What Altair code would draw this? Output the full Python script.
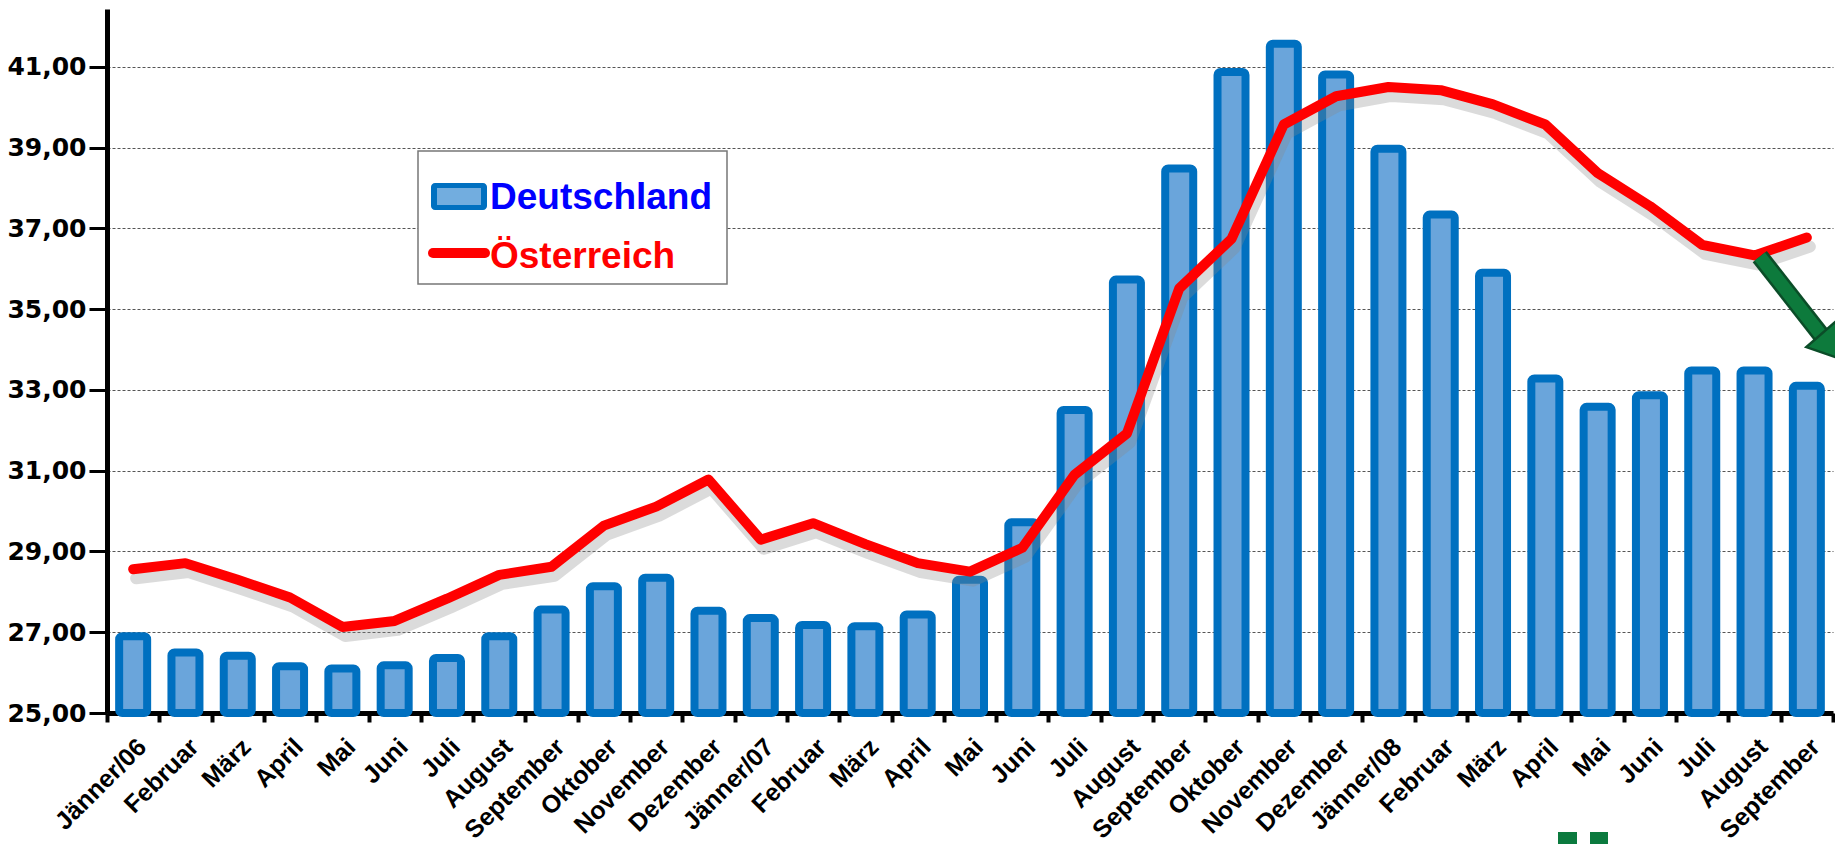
import altair as alt
import pandas as pd

months = ["Jänner/06", "Februar", "März", "April", "Mai", "Juni", "Juli", "August",
          "September", "Oktober", "November", "Dezember",
          "Jänner/07", "Februar", "März", "April", "Mai", "Juni", "Juli", "August",
          "September", "Oktober", "November", "Dezember",
          "Jänner/08", "Februar", "März", "April", "Mai", "Juni", "Juli", "August",
          "September"]

deutschland = [26.90, 26.50, 26.42, 26.16, 26.10, 26.18, 26.36, 26.90, 27.56, 28.14,
               28.35, 27.53, 27.35, 27.18, 27.15, 27.44, 28.30, 29.72, 32.50, 35.73,
               38.48, 40.87, 41.57, 40.81, 38.97, 37.34, 35.90, 33.28, 32.58, 32.87,
               33.48, 33.48, 33.10]

oesterreich = [28.56, 28.71, 28.30, 27.86, 27.13, 27.28, 27.83, 28.42, 28.62, 29.64,
               30.11, 30.78, 29.29, 29.70, 29.18, 28.71, 28.50, 29.09, 30.90, 31.92,
               35.51, 36.74, 39.57, 40.27, 40.50, 40.42, 40.07, 39.57, 38.37, 37.55,
               36.59, 36.33, 36.77]

y_ticks = [25, 27, 29, 31, 33, 35, 37, 39, 41]

# annotation arrow (in month-index units / y units)
arrow_x = [31.60, 32.79]
arrow_y = [36.30, 34.33]
arrow_head_x = [32.98]
arrow_head_y = [34.06]

W, H = 1726, 704
Y_DOMAIN = [25, 42.43]

df = pd.DataFrame({"i": list(range(len(months))), "D": deutschland, "O": oesterreich})

label_array = "[" + ",".join("'" + m + "'" for m in months) + "]"

x_enc = alt.X("i:O", title=None,
              scale=alt.Scale(paddingInner=0, paddingOuter=0),
              axis=alt.Axis(labelExpr=label_array + "[datum.value]",
                            labelAngle=-45, labelAlign="right", labelBaseline="top",
                            labelFont="Liberation Sans", labelFontWeight="bold",
                            labelFontSize=25, labelColor="black", labelPadding=12,
                            tickBand="extent", tickColor="black", tickWidth=4,
                            tickSize=9, domainColor="black", domainWidth=5,
                            grid=False))

y_scale = alt.Scale(domain=Y_DOMAIN, nice=False, zero=False)
y_axis = alt.Axis(values=y_ticks,
                  labelExpr="replace(format(datum.value, '.2f'), '.', ',')",
                  labelFont="DejaVu Sans", labelFontWeight="bold", labelFontSize=25,
                  labelColor="black", labelPadding=3,
                  tickColor="black", tickWidth=3, tickSize=18,
                  domainColor="black", domainWidth=5,
                  grid=True, gridColor="#555555", gridWidth=1, gridDash=[3, 2])

base = alt.Chart(df)

bars = base.mark_bar(size=28, fill="#6aa5db", stroke="#0070c0", strokeWidth=8,
                     cornerRadius=3).encode(
    x=x_enc,
    y=alt.Y("D:Q", title=None, scale=y_scale, axis=y_axis),
    y2=alt.datum(25),
)

shadow = base.mark_line(color="#888888", opacity=0.3, strokeWidth=12, yOffset=9,
                        xOffset=3, strokeJoin="round", strokeCap="round").encode(
    x=alt.X("i:O"), y=alt.Y("O:Q", title=None, scale=y_scale))

line = base.mark_line(color="#ff0000", strokeWidth=10, strokeJoin="round",
                      strokeCap="round").encode(
    x=alt.X("i:O"), y=alt.Y("O:Q", title=None, scale=y_scale))

one = alt.Chart(pd.DataFrame({"a": [0]}))
leg_box = one.mark_rect(fill="white", stroke="#777777", strokeWidth=1.5).encode(
    x=alt.value(311), x2=alt.value(620), y=alt.value(142), y2=alt.value(275))
leg_sw1 = one.mark_rect(fill="#0070c0", cornerRadius=4).encode(
    x=alt.value(324), x2=alt.value(380), y=alt.value(174), y2=alt.value(201))
leg_sw1b = one.mark_rect(fill="#8fbde6", opacity=0.8).encode(
    x=alt.value(330), x2=alt.value(374), y=alt.value(179), y2=alt.value(196))
leg_sw2 = one.mark_rule(color="#ff0000", strokeWidth=10, strokeCap="round").encode(
    x=alt.value(326), x2=alt.value(378), y=alt.value(244))
leg_t1 = one.mark_text(text="Deutschland", font="Liberation Sans", fontWeight="bold",
                       fontSize=37, color="#0000ff", align="left",
                       baseline="middle").encode(x=alt.value(383), y=alt.value(189))
leg_t2 = one.mark_text(text="Österreich", font="Liberation Sans", fontWeight="bold",
                       fontSize=37, color="#ff0000", align="left",
                       baseline="middle").encode(x=alt.value(383), y=alt.value(248))

# cut-off logo fragment at the bottom edge
logo1 = one.mark_rect(fill="#0b7a3e").encode(
    x=alt.value(1451), x2=alt.value(1470), y=alt.value(823), y2=alt.value(850))
logo2 = one.mark_rect(fill="#0b7a3e").encode(
    x=alt.value(1483), x2=alt.value(1501), y=alt.value(823), y2=alt.value(850))

main = alt.layer(bars, shadow, line, leg_box, leg_sw1, leg_sw1b, leg_sw2, leg_t1, leg_t2,
                 logo1, logo2)

arrow_df = pd.DataFrame({"x": [arrow_x[0]], "x2": [arrow_x[1]],
                         "y": [arrow_y[0]], "y2": [arrow_y[1]]})
head_df = pd.DataFrame({"x": arrow_head_x, "y": arrow_head_y})
ax_scale = alt.Scale(domain=[0, len(months)], nice=False, zero=False)

arrow_outer = alt.Chart(arrow_df).mark_rule(color="#0b4d28", strokeWidth=18).encode(
    x=alt.X("x:Q", scale=ax_scale, axis=None), x2="x2:Q",
    y=alt.Y("y:Q", title=None, scale=y_scale), y2="y2:Q")
arrow_inner = alt.Chart(arrow_df).mark_rule(color="#0d7a3c", strokeWidth=13).encode(
    x=alt.X("x:Q", scale=ax_scale, axis=None), x2="x2:Q",
    y=alt.Y("y:Q", title=None, scale=y_scale), y2="y2:Q")
arrow_head = alt.Chart(head_df).mark_point(shape="triangle-right", filled=True,
                                           fill="#0d7a3c", stroke="#0b4d28",
                                           strokeWidth=2.5, size=1500, opacity=1,
                                           angle=49).encode(
    x=alt.X("x:Q", scale=ax_scale, axis=None),
    y=alt.Y("y:Q", title=None, scale=y_scale))

arrow_layer = alt.layer(arrow_outer, arrow_inner, arrow_head)

chart = alt.layer(main, arrow_layer).resolve_scale(x="independent").properties(
    width=W, height=H,
    autosize=alt.AutoSizeParams(type="none"),
    padding={"left": 99, "top": 1, "right": 2, "bottom": 131},
    background="white",
).configure_view(stroke="transparent", strokeWidth=0)

chart.save("out.html", embed_options={"renderer": "svg", "actions": False})
